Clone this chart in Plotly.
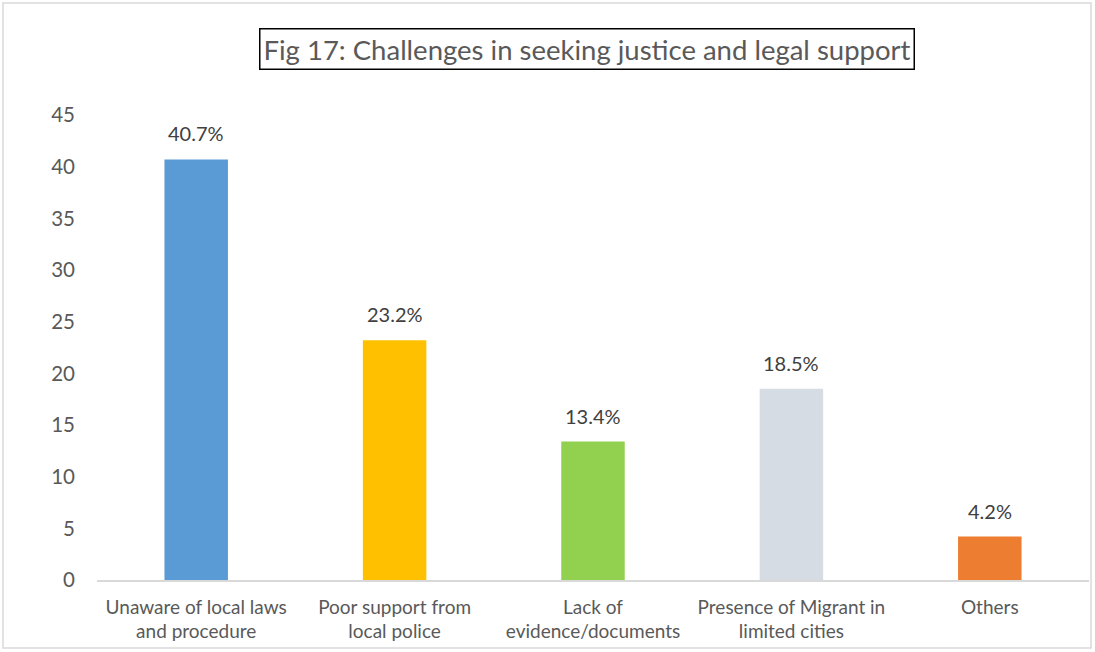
import plotly.graph_objects as go

# Survey responses: challenges faced when seeking justice and legal support
categories = [
    "Unaware of local laws<br>and procedure",
    "Poor support from<br>local police",
    "Lack of<br>evidence/documents",
    "Presence of Migrant in<br>limited cities",
    "Others",
]
shares = [40.7, 23.2, 13.4, 18.5, 4.2]
bar_colors = ["#5B9BD5", "#FFC000", "#92D050", "#D6DCE4", "#ED7D31"]
y_ticks = [0, 5, 10, 15, 20, 25, 30, 35, 40, 45]

W, H = 1095, 652
ML, MR, MT, MB = 97, 6, 115, 72
FONT = "Lato, 'Open Sans', sans-serif"

fig = go.Figure(
    go.Bar(
        x=categories,
        y=shares,
        marker=dict(color=bar_colors, line=dict(width=0)),
        width=0.32,
        hoverinfo="x+y",
    )
)

# value labels above each bar
for cat, val in zip(categories, shares):
    fig.add_annotation(
        x=cat, y=val, text=f"{val:.1f}%", showarrow=False,
        yanchor="bottom", yshift=12,
        font=dict(family=FONT, size=20, color="#404040"),
    )

# boxed chart title
pw, ph = W - ML - MR, H - MT - MB
fig.add_annotation(
    xref="paper", yref="paper", x=(0.5 * (258 + 915) - ML) / pw, y=1 + (MT - 49) / ph,
    text="Fig 17: Challenges in seeking justice and legal support",
    showarrow=False, xanchor="center", yanchor="middle",
    font=dict(family=FONT, size=27.5, color="#595959"),
    bordercolor="#000000", borderwidth=1.5, borderpad=3, bgcolor="white",
)

# outer frame around the whole chart
fig.add_shape(
    type="rect", xref="paper", yref="paper",
    x0=(3 - ML) / pw, x1=(W - 4 - ML) / pw,
    y0=-(H - 4 - MT - ph) / ph, y1=1 + (MT - 3) / ph,
    line=dict(color="#D9D9D9", width=1.5), layer="below",
)

fig.update_layout(
    width=W, height=H,
    margin=dict(l=ML, r=MR, t=MT, b=MB),
    paper_bgcolor="white", plot_bgcolor="white",
    showlegend=False,
    font=dict(family=FONT, color="#595959"),
    xaxis=dict(
        showline=True, linecolor="#D9D9D9", linewidth=1.5,
        ticks="", tickfont=dict(size=19, color="#595959"),
        ticklabelstandoff=9, showgrid=False,
    ),
    yaxis=dict(
        range=[0, 45], tickvals=y_ticks, showgrid=False, zeroline=False,
        showline=False, ticks="", ticklabelstandoff=21,
        tickfont=dict(size=20.5, color="#595959"),
    ),
)

fig.write_html("out.html")
